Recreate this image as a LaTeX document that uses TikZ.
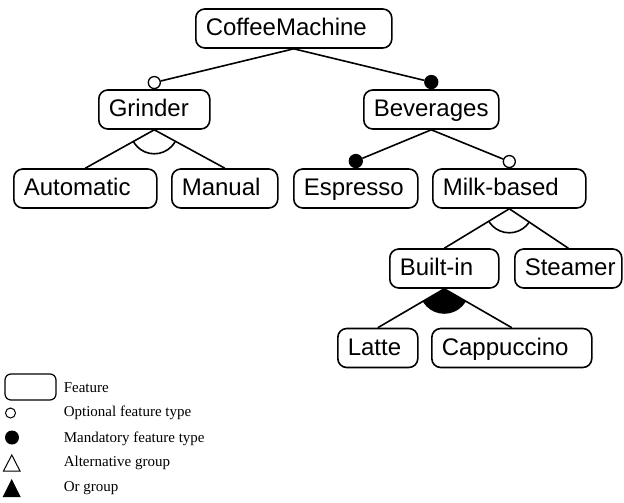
\documentclass[tikz,border=0pt]{standalone}
\usepackage{fontspec}
\setmainfont{Liberation Serif}
\newfontfamily\arialfont{Liberation Sans}
\usetikzlibrary{positioning}

\begin{document}
\begin{tikzpicture}[
  x=1pt, y=-1pt,
  line width=1.6pt,
  feat/.style={draw, rounded corners=9pt, anchor=west, minimum height=39pt,
    inner xsep=10pt, inner ysep=0pt, align=left, text width=#1,
    text height=18pt, text depth=4pt,
    font=\arialfont\fontsize{24}{28}\selectfont},
  opt/.style={draw, circle, fill=white, inner sep=0pt, minimum size=12pt, line width=1.3pt},
  mand/.style={opt, fill=black, minimum size=13pt},
  note/.style={anchor=west, inner sep=0pt, font=\fontsize{15}{18}\selectfont}
]
\useasboundingbox (0,0) rectangle (624,503);

% features
\node[feat=176pt] (cm) at (195,28.5) {CoffeeMachine};
\node[feat=91pt] (grinder) at (98,109.5) {Grinder};
\node[feat=115pt] (bev) at (363,109.5) {Beverages};
\node[feat=123pt] (auto) at (13,188.5) {Automatic};
\node[feat=86pt] (manual) at (171,188.5) {Manual};
\node[feat=104pt] (espresso) at (293,188.5) {Espresso};
\node[feat=133pt] (milk) at (432,188.5) {Milk-based};
\node[feat=89pt] (builtin) at (389,268.5) {Built-in};
\node[feat=87pt] (steamer) at (514,268.5) {Steamer};
\node[feat=60pt] (latte) at (337,348) {Latte};
\node[feat=140pt] (capp) at (431,348) {Cappuccino};

% optional / mandatory
\node[opt, above=0pt of grinder] (grinderC) {};
\node[mand, above=0pt of bev] (bevC) {};
\node[mand, above=0pt of espresso] (espressoC) {};
\node[opt, above=0pt of milk] (milkC) {};

\draw (cm.south) -- (grinderC);
\draw (cm.south) -- (bevC);
\draw (bev.south) -- (espressoC);
\draw (bev.south) -- (milkC);

% alternative groups
\draw (grinder.south) -- (auto.north);
\draw (grinder.south) -- (manual.north);
\begin{scope}
  \clip (grinder.south) -- (auto.north) -- (manual.north) -- cycle;
  \draw (grinder.south) circle[radius=24];
\end{scope}

\draw (milk.south) -- (builtin.north);
\draw (milk.south) -- (steamer.north);
\begin{scope}
  \clip (milk.south) -- (builtin.north) -- (steamer.north) -- cycle;
  \draw (milk.south) circle[radius=24];
\end{scope}

% or group
\draw (builtin.south) -- (latte.north);
\draw (builtin.south) -- (capp.north);
\begin{scope}
  \clip (builtin.south) -- (latte.north) -- (capp.north) -- cycle;
  \fill (builtin.south) circle[radius=25];
\end{scope}

% legend
\node[draw, rounded corners=6pt, line width=1.2pt, minimum width=51pt, minimum height=26pt,
  inner sep=0pt] (legF) at (30.5,387) {};
\node[note] (legFt) at (63,388) {Feature};
\node[opt, minimum size=10pt, line width=1pt] (legO) at (10.5,413) {};
\node[note] (legOt) at (63,413) {Optional feature type};
\node[circle, fill, inner sep=0pt, minimum size=14pt] (legM) at (12,437.5) {};
\node[note] (legMt) at (63,439) {Mandatory feature type};
\draw[line width=1pt] (3.5,471) -- (11.8,455) -- (20,471) -- cycle;
\node[note] (legAt) at (63,463) {Alternative group};
\fill (2.7,497) -- (11.7,479) -- (20.7,497) -- cycle;
\node[note] (legRt) at (63,488) {Or group};

\end{tikzpicture}
\end{document}
